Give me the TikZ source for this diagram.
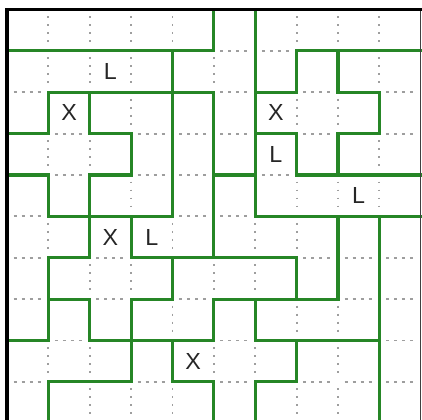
\documentclass[tikz,border=0pt]{standalone}
\usepackage{fontspec}
\setmainfont{Liberation Sans}
\definecolor{wallgreen}{RGB}{38,134,38}
\begin{document}
\begin{tikzpicture}[x=1cm,y=-1cm,
  wall/.style={draw=wallgreen, line width=2.1pt, line cap=rect, line join=miter},
  vdot/.style={draw=black!38, line width=1.3pt, dash pattern=on 1.3pt off 4.2pt},
  hdot/.style={draw=black!38, line width=1.3pt, dash pattern=on 2pt off 3.5pt},
  clue/.style={font=\fontsize{16}{16}\selectfont, text=black!85, inner sep=0pt}]
\useasboundingbox (-0.169,-0.229) rectangle (10.03,9.916);
% dotted grid
\foreach \c in {1,...,9} {
  \foreach \r in {0,...,9} {
    \draw[vdot] (\c,\r+0.16) -- (\c,\r+0.86);
  }
}
\foreach \r in {1,...,9} {
  \foreach \c in {0,...,9} {
    \draw[hdot] (\c+0.16,\r) -- (\c+0.86,\r);
  }
}
% green walls
\draw[wall] (0,1) -- (5,1) -- (5,0);
\draw[wall] (6,0) -- (6,5) -- (10,5);
\draw[wall] (10,1) -- (7,1) -- (7,2) -- (6,2);
\draw[wall] (8,1) -- (8,2) -- (9,2) -- (9,3) -- (8,3) -- (8,4);
\draw[wall] (6,3) -- (7,3) -- (7,4) -- (10,4);
\draw[wall] (5,4) -- (6,4);
\draw[wall] (1,3) -- (1,2) -- (5,2) -- (5,6);
\draw[wall] (1,3) -- (0,3);
\draw[wall] (2,2) -- (2,3) -- (3,3) -- (3,4) -- (2,4) -- (2,6) -- (1,6) -- (1,8) -- (0,8);
\draw[wall] (0,4) -- (1,4) -- (1,5) -- (4,5);
\draw[wall] (4,1) -- (4,5);
\draw[wall] (3,5) -- (3,6);
\draw[wall] (3,6) -- (7,6) -- (7,7);
\draw[wall] (4,6) -- (4,7) -- (3,7) -- (3,9) -- (1,9) -- (1,10);
\draw[wall] (1,7) -- (2,7) -- (2,8) -- (5,8) -- (5,7) -- (8,7) -- (8,5);
\draw[wall] (6,7) -- (6,8) -- (9,8);
\draw[wall] (9,5) -- (9,10);
\draw[wall] (4,8) -- (4,9) -- (5,9) -- (5,10);
\draw[wall] (7,8) -- (7,9) -- (6,9) -- (6,10);
% borders
\draw[black!75, line width=0.7pt] (10,0) -- (10,10);
\draw[black, line width=2.2pt, line cap=rect] (0,10) -- (0,0) -- (10,0);
% clues
\node[clue] (l1) at (2.5,1.5) {L};
\node[clue] (x1) at (1.5,2.5) {X};
\node[clue] (x2) at (6.5,2.5) {X};
\node[clue] (l2) at (6.5,3.5) {L};
\node[clue] (l3) at (8.5,4.5) {L};
\node[clue] (x3) at (2.5,5.5) {X};
\node[clue] (l4) at (3.5,5.5) {L};
\node[clue] (x4) at (4.5,8.5) {X};
\end{tikzpicture}
\end{document}
